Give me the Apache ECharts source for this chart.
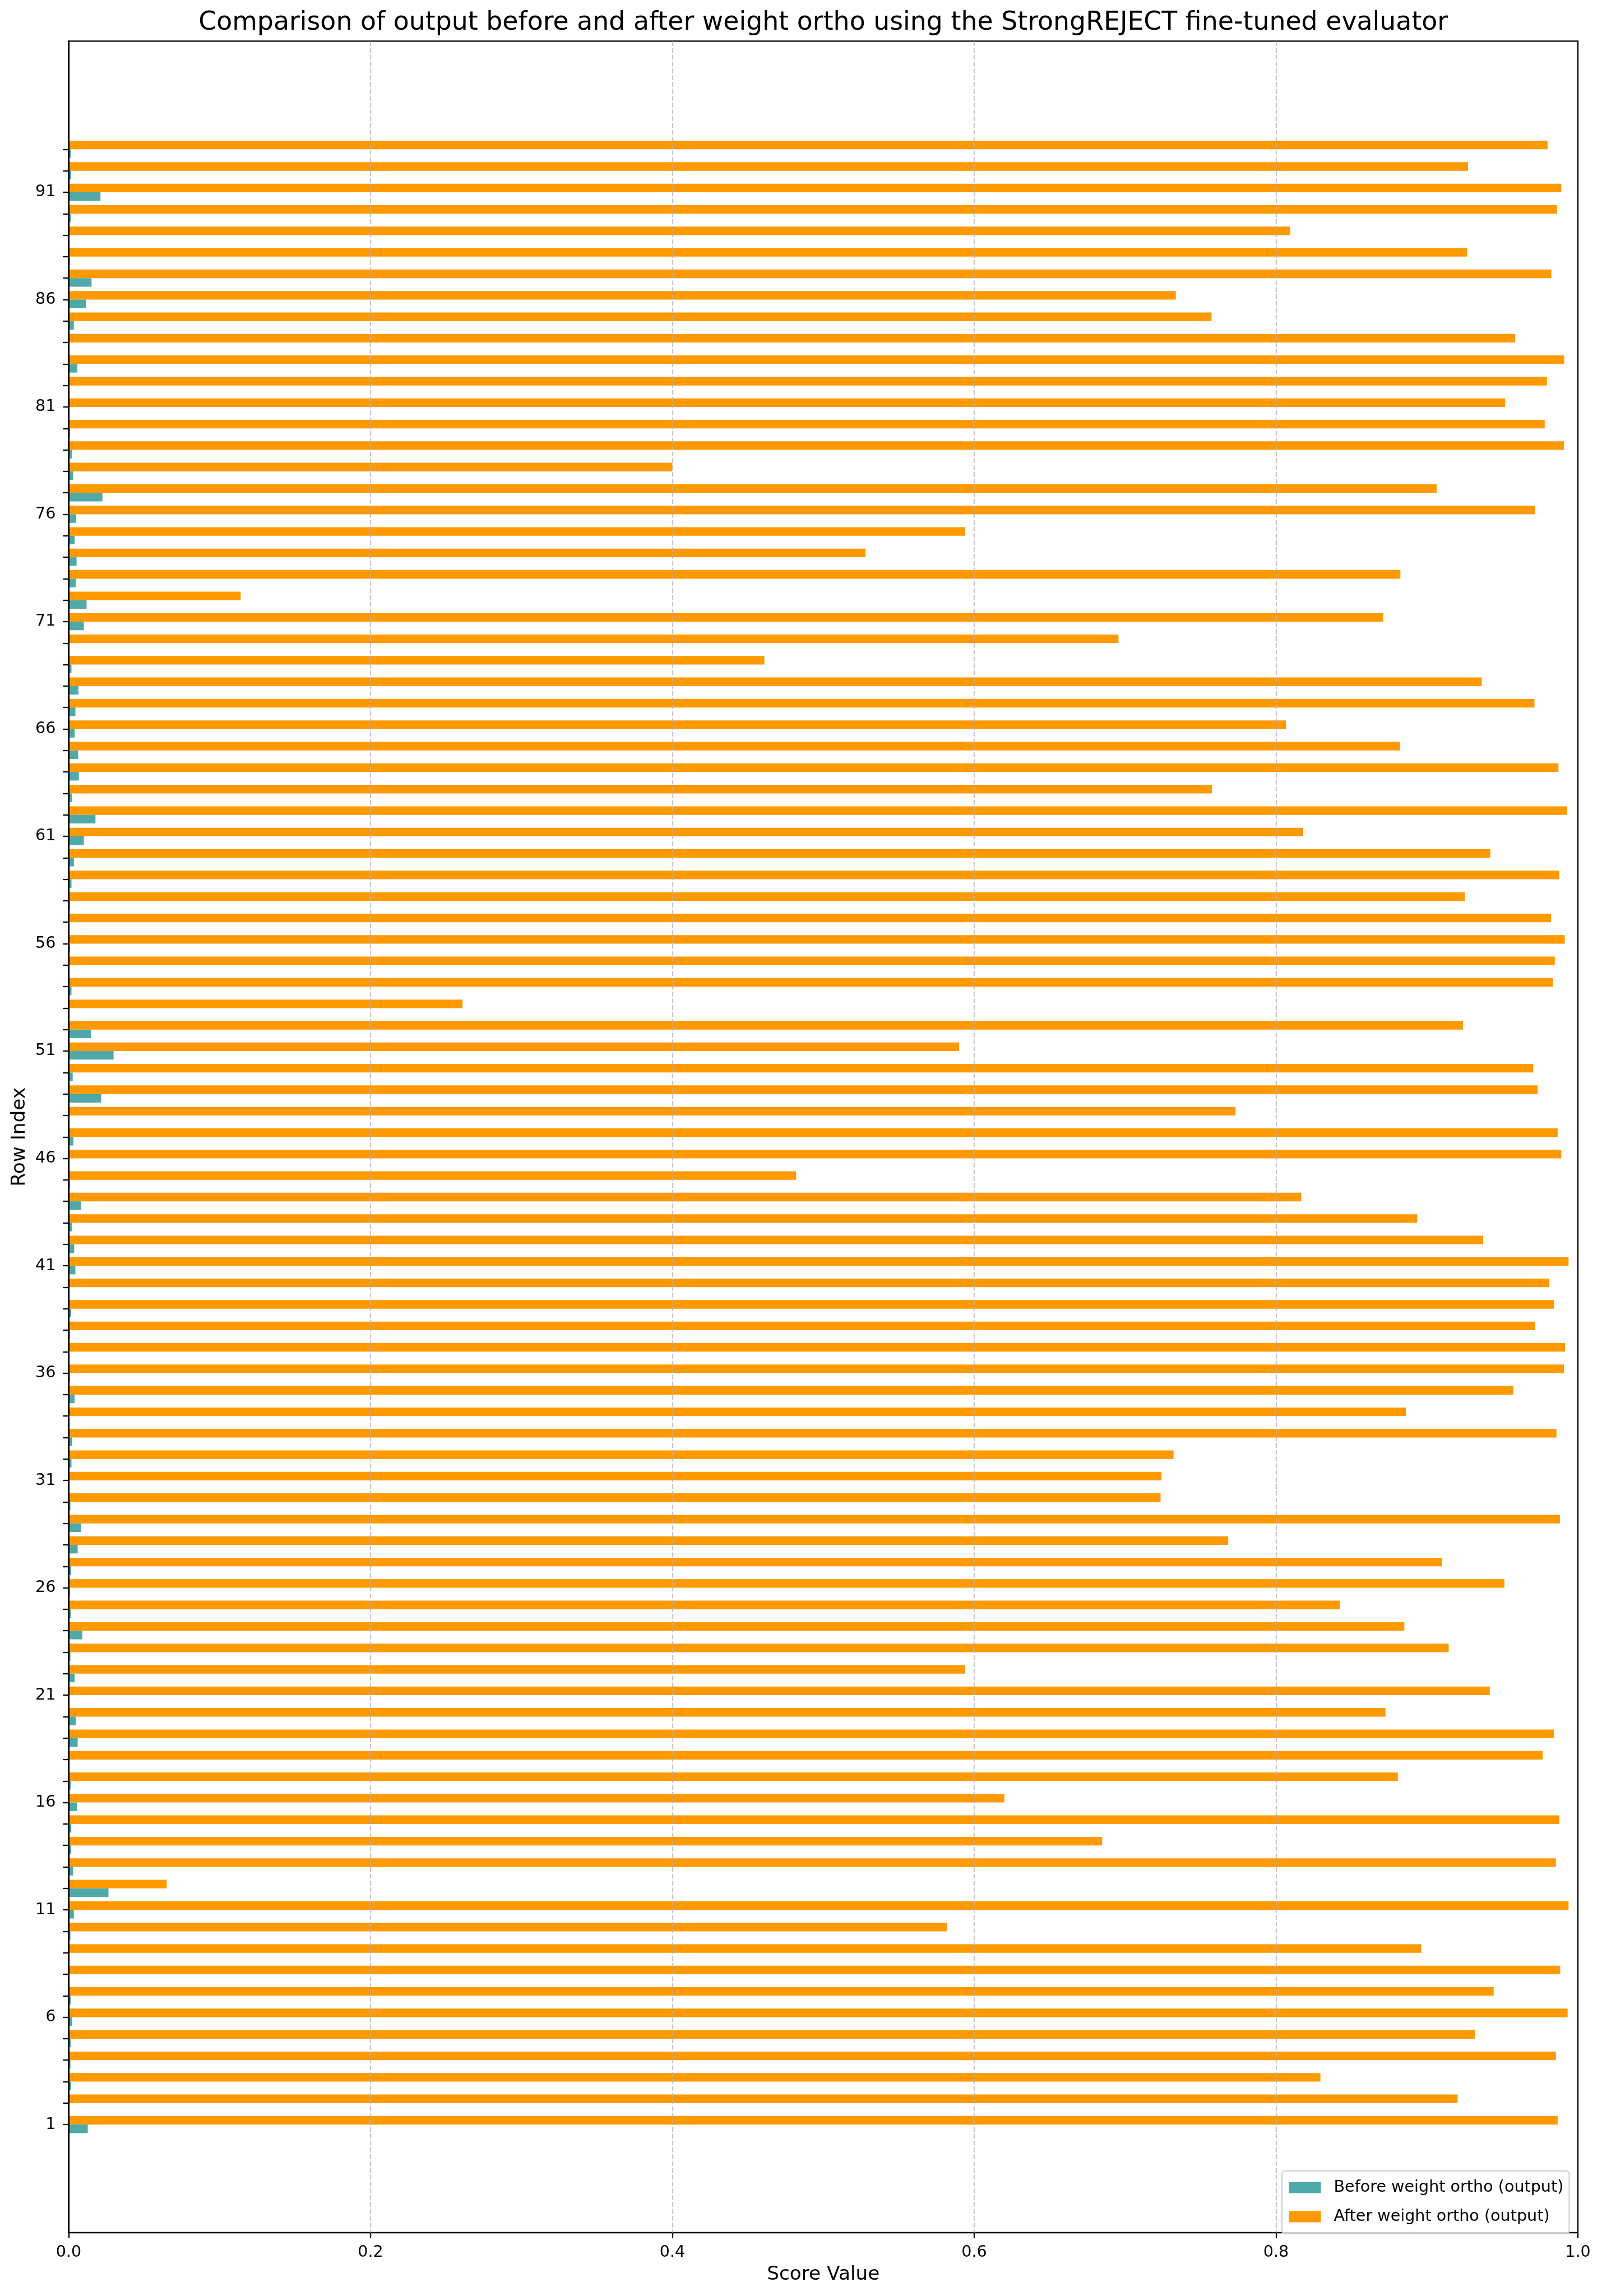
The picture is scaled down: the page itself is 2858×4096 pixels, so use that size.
<!DOCTYPE html>
<html>
<head>
<meta charset="utf-8">
<script src="https://cdn.jsdelivr.net/npm/echarts@6/dist/echarts.min.js"></script>
<style>html,body{margin:0;padding:0;background:#fff}#c{width:2858px;height:4096px}</style>
</head>
<body>
<div id="c"></div>
<script>
// ---- data ----
const rowLabels = ['1','2','3','4','5','6','7','8','9','10','11','12','13','14','15','16','17','18','19','20',
'21','22','23','24','25','26','27','28','29','30','31','32','33','34','35','36','37','38','39','40',
'41','42','43','44','45','46','47','48','49','50','51','52','53','54','55','56','57','58','59','60',
'61','62','63','64','65','66','67','68','69','70','71','72','73','74','75','76','77','78','79','80',
'81','82','83','84','85','86','87','88','89','90','91','92','93'];
const yTickLabels = ['1','6','11','16','21','26','31','36','41','46','51','56','61','66','71','76','81','86','91'];
const seriesNames = ['Before weight ortho (output)', 'After weight ortho (output)'];
const beforeScores = [
0.0127,0.0002,0.0017,0.0012,0.0014,0.0024,0.0014,0.0002,0.0002,0.0012,
0.0035,0.0264,0.0030,0.0017,0.0017,0.0055,0.0014,0.0002,0.0060,0.0047,
0.0006,0.0040,0.0012,0.0091,0.0014,0.0009,0.0017,0.0060,0.0083,0.0012,
0.0002,0.0019,0.0024,0.0006,0.0040,0.0009,0.0006,0.0009,0.0017,0.0002,
0.0045,0.0037,0.0022,0.0083,0.0009,0.0006,0.0032,0.0002,0.0216,0.0027,
0.0298,0.0147,0.0002,0.0019,0.0006,0.0009,0.0006,0.0009,0.0019,0.0035,
0.0101,0.0178,0.0022,0.0068,0.0063,0.0040,0.0045,0.0065,0.0019,0.0002,
0.0101,0.0119,0.0047,0.0053,0.0040,0.0050,0.0224,0.0030,0.0022,0.0009,
0.0002,0.0006,0.0058,0.0002,0.0035,0.0114,0.0152,0.0009,0.0002,0.0014,
0.0211,0.0017,0.0014];
const afterScores = [
0.9866,0.9203,0.8294,0.9854,0.9319,0.9932,0.9442,0.9883,0.8962,0.582,
0.9938,0.065,0.9854,0.6848,0.9877,0.620,0.8807,0.9767,0.9841,0.8725,
0.9416,0.594,0.9144,0.885,0.8423,0.9513,0.9099,0.7683,0.9881,0.7235,
0.7241,0.7321,0.9858,0.886,0.9573,0.9907,0.9915,0.9716,0.9841,0.9811,
0.9938,0.9372,0.8936,0.8167,0.482,0.989,0.9866,0.7732,0.9733,0.9704,
0.590,0.9239,0.261,0.9835,0.9847,0.9913,0.9822,0.9251,0.9877,0.942,
0.818,0.9928,0.7575,0.9871,0.8822,0.8066,0.9712,0.9363,0.461,0.6956,
0.871,0.114,0.8824,0.528,0.594,0.9716,0.9065,0.400,0.9907,0.978,
0.9518,0.9795,0.9909,0.9585,0.7573,0.7336,0.9824,0.9266,0.8093,0.9862,
0.989,0.9272,0.9799];

// ---- layout ----
const FONT = '"DejaVu Sans", "Liberation Sans", sans-serif';
const PL = 122.4, PR = 2815, PT = 73.4, PB = 3983;
const BT = 247.2, BB = 3809.3;

const chart = echarts.init(document.getElementById('c'), null, {renderer: 'canvas'});
chart.setOption({
  animation: false,
  backgroundColor: '#ffffff',
  grid: [
    {left: PL, top: PT, width: PR - PL, height: PB - PT, show: true, borderColor: '#000', borderWidth: 2.3,
     backgroundColor: 'transparent', containLabel: false, outerBoundsMode: 'none'},
    {left: PL, top: BT, width: PR - PL, height: BB - BT, containLabel: false, outerBoundsMode: 'none'}
  ],
  xAxis: [
    {gridIndex: 0, type: 'value', min: 0, max: 1, interval: 0.2, z: 5, position: 'bottom',
     axisLine: {show: false, onZero: false},
     axisTick: {show: true, length: 10, lineStyle: {color: '#000', width: 2.3}},
     axisLabel: {margin: 21, fontSize: 28.6, fontFamily: FONT, color: '#000', formatter: v => v.toFixed(1)},
     splitLine: {show: true, showMinLine: false, showMaxLine: false,
       lineStyle: {color: 'rgba(176,176,176,0.7)', width: 2.3, type: [8.5, 3.7]}}},
    {gridIndex: 1, type: 'value', min: 0, max: 1, show: false,
     axisLine: {show: false, onZero: false}, axisTick: {show: false}, axisLabel: {show: false}, splitLine: {show: false}}
  ],
  yAxis: [
    {gridIndex: 0, type: 'value', min: -4.04, max: 98.04, z: 5,
     axisLine: {show: true, onZero: false, lineStyle: {color: '#000', width: 2.3}},
     axisTick: {show: false}, axisLabel: {show: false}, splitLine: {show: false}},
    {gridIndex: 1, type: 'category', data: rowLabels,
     axisLine: {show: false, onZero: false},
     axisTick: {show: true, alignWithLabel: true, interval: 0, length: 10, lineStyle: {color: '#000', width: 2.3}},
     axisLabel: {interval: (i, v) => yTickLabels.includes(v), margin: 22.9, fontSize: 28.6, fontFamily: FONT, color: '#000'},
     splitLine: {show: false}}
  ],
  legend: {
    orient: 'vertical', left: 2287, top: 3873, padding: [15, 10, 16, 12.5],
    itemGap: 23, itemWidth: 57, itemHeight: 20, icon: 'rect',
    borderColor: '#cccccc', borderWidth: 2, borderRadius: 5, backgroundColor: 'rgba(255,255,255,0.8)',
    textStyle: {fontSize: 28.6, fontFamily: FONT, color: '#000', padding: [0, 0, 0, 18]},
    data: seriesNames
  },
  series: [
    {type: 'bar', name: seriesNames[1], xAxisIndex: 1, yAxisIndex: 1, data: afterScores,
     barWidth: 15.3, barGap: '0%', itemStyle: {color: '#ff9900'}},
    {type: 'bar', name: seriesNames[0], xAxisIndex: 1, yAxisIndex: 1, data: beforeScores,
     barWidth: 15.3, barGap: '0%', itemStyle: {color: '#4fa9a8'}}
  ],
  graphic: [
    {type: 'text', x: (PL + PR) / 2, y: 40.9,
     style: {text: 'Comparison of output before and after weight ortho using the StrongREJECT fine-tuned evaluator',
       fontSize: 45.8, fontFamily: FONT, fill: '#000', align: 'center', verticalAlign: 'middle'}},
    {type: 'text', x: (PL + PR) / 2, y: 4057.7,
     style: {text: 'Score Value', fontSize: 34.3, fontFamily: FONT, fill: '#000', align: 'center', verticalAlign: 'middle'}},
    {type: 'text', x: 35.4, y: (PT + PB) / 2, rotation: Math.PI / 2,
     style: {text: 'Row Index', fontSize: 34.3, fontFamily: FONT, fill: '#000', align: 'center', verticalAlign: 'middle'}}
  ]
});
</script>
</body>
</html>
